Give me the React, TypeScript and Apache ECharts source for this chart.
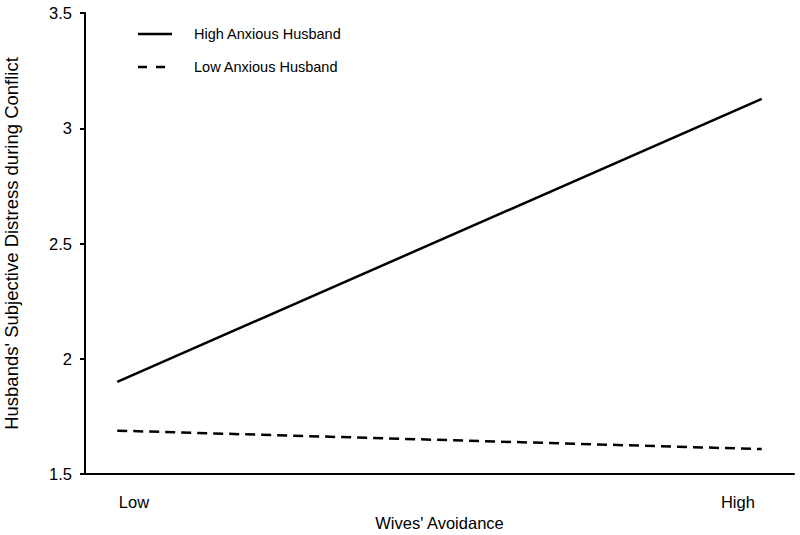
import React, { useEffect, useRef } from "react";
import * as echarts from "echarts";

const categories = ["Low", "High"];
const xPositions = [0, 1];
const highAnxious = [1.9, 3.127];
const lowAnxious = [1.688, 1.608];
const seriesNames = ["High Anxious Husband", "Low Anxious Husband"];
const yTicks = [1.5, 2, 2.5, 3, 3.5];
const labelPositions = [0.026, 0.963];

const FONT = "'Liberation Sans', Arial, sans-serif";

export default function App() {
  const ref = useRef<HTMLDivElement>(null);
  useEffect(() => {
    document.body.style.margin = "0";
    const chart = echarts.init(ref.current!, null, { renderer: "svg" });
    chart.setOption({
      animation: false,
      backgroundColor: "#ffffff",
      grid: { left: 85, right: 6, top: 13, bottom: 61, containLabel: false, outerBoundsMode: "none" },
      xAxis: {
        type: "value",
        min: -0.05,
        max: 1.05,
        name: "Wives' Avoidance",
        nameLocation: "middle",
        nameGap: 40,
        nameTextStyle: { fontFamily: FONT, fontSize: 16.5, color: "#000" },
        axisLine: { onZero: false, lineStyle: { color: "#000", width: 2 } },
        axisTick: { show: false },
        splitLine: { show: false },
        axisLabel: {
          customValues: labelPositions,
          formatter: (v: number) => (v < 0.5 ? categories[0] : categories[1]),
          fontFamily: FONT,
          fontSize: 16.5,
          color: "#000",
          margin: 19,
        },
      },
      yAxis: {
        type: "value",
        min: yTicks[0],
        max: yTicks[yTicks.length - 1],
        interval: 0.5,
        name: "Husbands' Subjective Distress during Conflict",
        nameLocation: "middle",
        nameGap: 64,
        nameTextStyle: { fontFamily: FONT, fontSize: 18.5, color: "#000" },
        axisLine: { show: true, onZero: false, lineStyle: { color: "#000", width: 2 } },
        axisTick: { show: true, length: 5, lineStyle: { color: "#000", width: 2 } },
        splitLine: { show: false },
        axisLabel: {
          fontFamily: FONT,
          fontSize: 16.5,
          color: "#000",
          margin: 13,
          formatter: (v: number) => String(v),
        },
      },
      series: [
        {
          name: seriesNames[0],
          type: "line",
          data: xPositions.map((x, i) => [x, highAnxious[i]]),
          showSymbol: false,
          lineStyle: { color: "#000", width: 2.5, type: "solid" },
        },
        {
          name: seriesNames[1],
          type: "line",
          data: xPositions.map((x, i) => [x, lowAnxious[i]]),
          showSymbol: false,
          lineStyle: { color: "#000", width: 2.5, type: [10, 6] },
        },
      ],
      graphic: [
        {
          type: "line",
          shape: { x1: 138, y1: 34, x2: 172, y2: 34 },
          style: { stroke: "#000", lineWidth: 2.5 },
        },
        {
          type: "line",
          shape: { x1: 138, y1: 67, x2: 166, y2: 67 },
          style: { stroke: "#000", lineWidth: 2.5, lineDash: [9, 9] },
        },
        {
          type: "text",
          x: 194,
          y: 34,
          style: {
            text: seriesNames[0],
            fontFamily: FONT,
            fontSize: 14.5,
            fill: "#000",
            verticalAlign: "middle",
          },
        },
        {
          type: "text",
          x: 194,
          y: 67,
          style: {
            text: seriesNames[1],
            fontFamily: FONT,
            fontSize: 14.5,
            fill: "#000",
            verticalAlign: "middle",
          },
        },
      ],
    });
    return () => chart.dispose();
  }, []);
  return <div ref={ref} style={{ width: 800, height: 535 }} />;
}
